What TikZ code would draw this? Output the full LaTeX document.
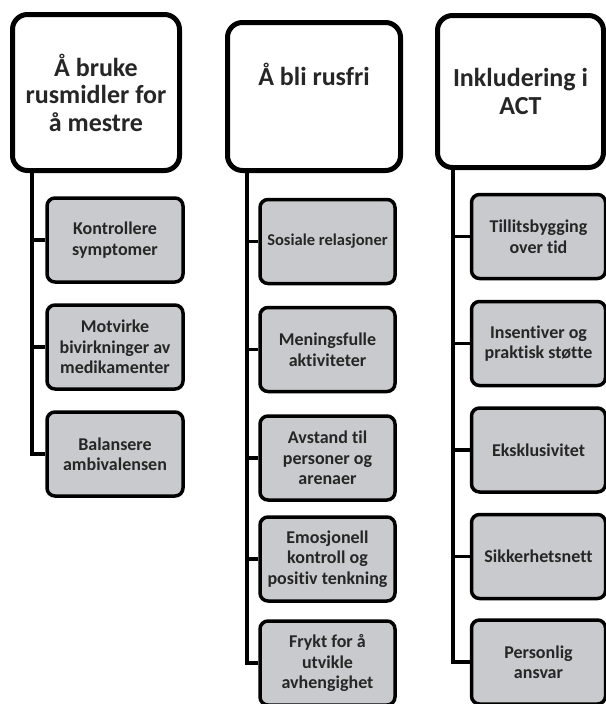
\documentclass[tikz,border=0pt]{standalone}
\usepackage{fontspec}
\setmainfont{Carlito}[RawFeature={-liga}]
\usetikzlibrary{shadows}

\definecolor{inkgray}{HTML}{262626}
\definecolor{boxgray}{HTML}{C9CACD}

\begin{document}
\begin{tikzpicture}[x=1pt, y=-1pt,
  header/.style={draw=black, line width=5pt, rounded corners=15pt, fill=white,
    drop shadow={opacity=0.25, shadow xshift=1.5pt, shadow yshift=-2pt},
    align=center, text=inkgray, font=\fontsize{26}{27.5}\selectfont\bfseries},
  item/.style={draw=black, line width=3.5pt, rounded corners=8pt, fill=boxgray,
    minimum width=136pt, minimum height=84pt, inner xsep=1pt, align=center, text=inkgray,
    font=\fontsize{18}{20.5}\selectfont\bfseries},
  link/.style={draw=black, line width=3.2pt}]

  \useasboundingbox (0,0) rectangle (605,704);

  % --- 1. Overskrifter ---
  \node[header, minimum width=167pt, minimum height=156pt] (h1) at (96,92.5)
    {Å bruke\\rusmidler for\\å mestre};
  \node[header, minimum width=173pt, minimum height=148pt, text depth=45pt] (h2) at (314,96.5)
    {Å bli rusfri};
  \node[header, minimum width=166pt, minimum height=152pt] (h3) at (520.5,91.5)
    {Inkludering i\\ACT};

  % --- 2. Kolonne 1 ---
  \node[item] (k1a) at (115,240) {Kontrollere\\symptomer};
  \node[item] (k1b) at (115,347) {Motvirke\\bivirkninger av\\medikamenter};
  \node[item] (k1c) at (115,454) {Balansere\\ambivalensen};

  % --- 3. Kolonne 2 ---
  \node[item, minimum width=135pt, font=\fontsize{16.5}{20.5}\selectfont\bfseries] (k2a) at (327.5,241.5)
    {Sosiale relasjoner};
  \node[item, minimum width=135pt] (k2b) at (327.5,349.5) {Meningsfulle\\aktiviteter};
  \node[item, minimum width=135pt] (k2c) at (327.5,458) {Avstand til\\personer og\\arenaer};
  \node[item, minimum width=135pt] (k2d) at (327.5,559) {Emosjonell\\kontroll og\\positiv tenkning};
  \node[item, minimum width=135pt] (k2e) at (327.5,663) {Frykt for å\\utvikle\\avhengighet};

  % --- 4. Kolonne 3 ---
  \node[item, minimum width=134pt] (k3a) at (538.5,236.5) {Tillitsbygging\\over tid};
  \node[item, minimum width=134pt] (k3b) at (538.5,343.5) {Insentiver og\\praktisk støtte};
  \node[item, minimum width=134pt] (k3c) at (538.5,450) {Eksklusivitet};
  \node[item, minimum width=134pt] (k3d) at (538.5,556.5) {Sikkerhetsnett};
  \node[item, minimum width=134pt] (k3e) at (538.5,662) {Personlig\\ansvar};

  % --- 5. Forbindelser ---
  \coordinate (sp1) at (32,0);
  \coordinate (sp2) at (247,0);
  \coordinate (sp3) at (453,0);
  \foreach \k in {k1a,k1b,k1c}
    \draw[link] (h1.south -| sp1) |- (\k.west);
  \foreach \k in {k2a,k2b,k2c,k2d,k2e}
    \draw[link] (h2.south -| sp2) |- (\k.west);
  \foreach \k in {k3a,k3b,k3c,k3d,k3e}
    \draw[link] (h3.south -| sp3) |- (\k.west);

\end{tikzpicture}
\end{document}
